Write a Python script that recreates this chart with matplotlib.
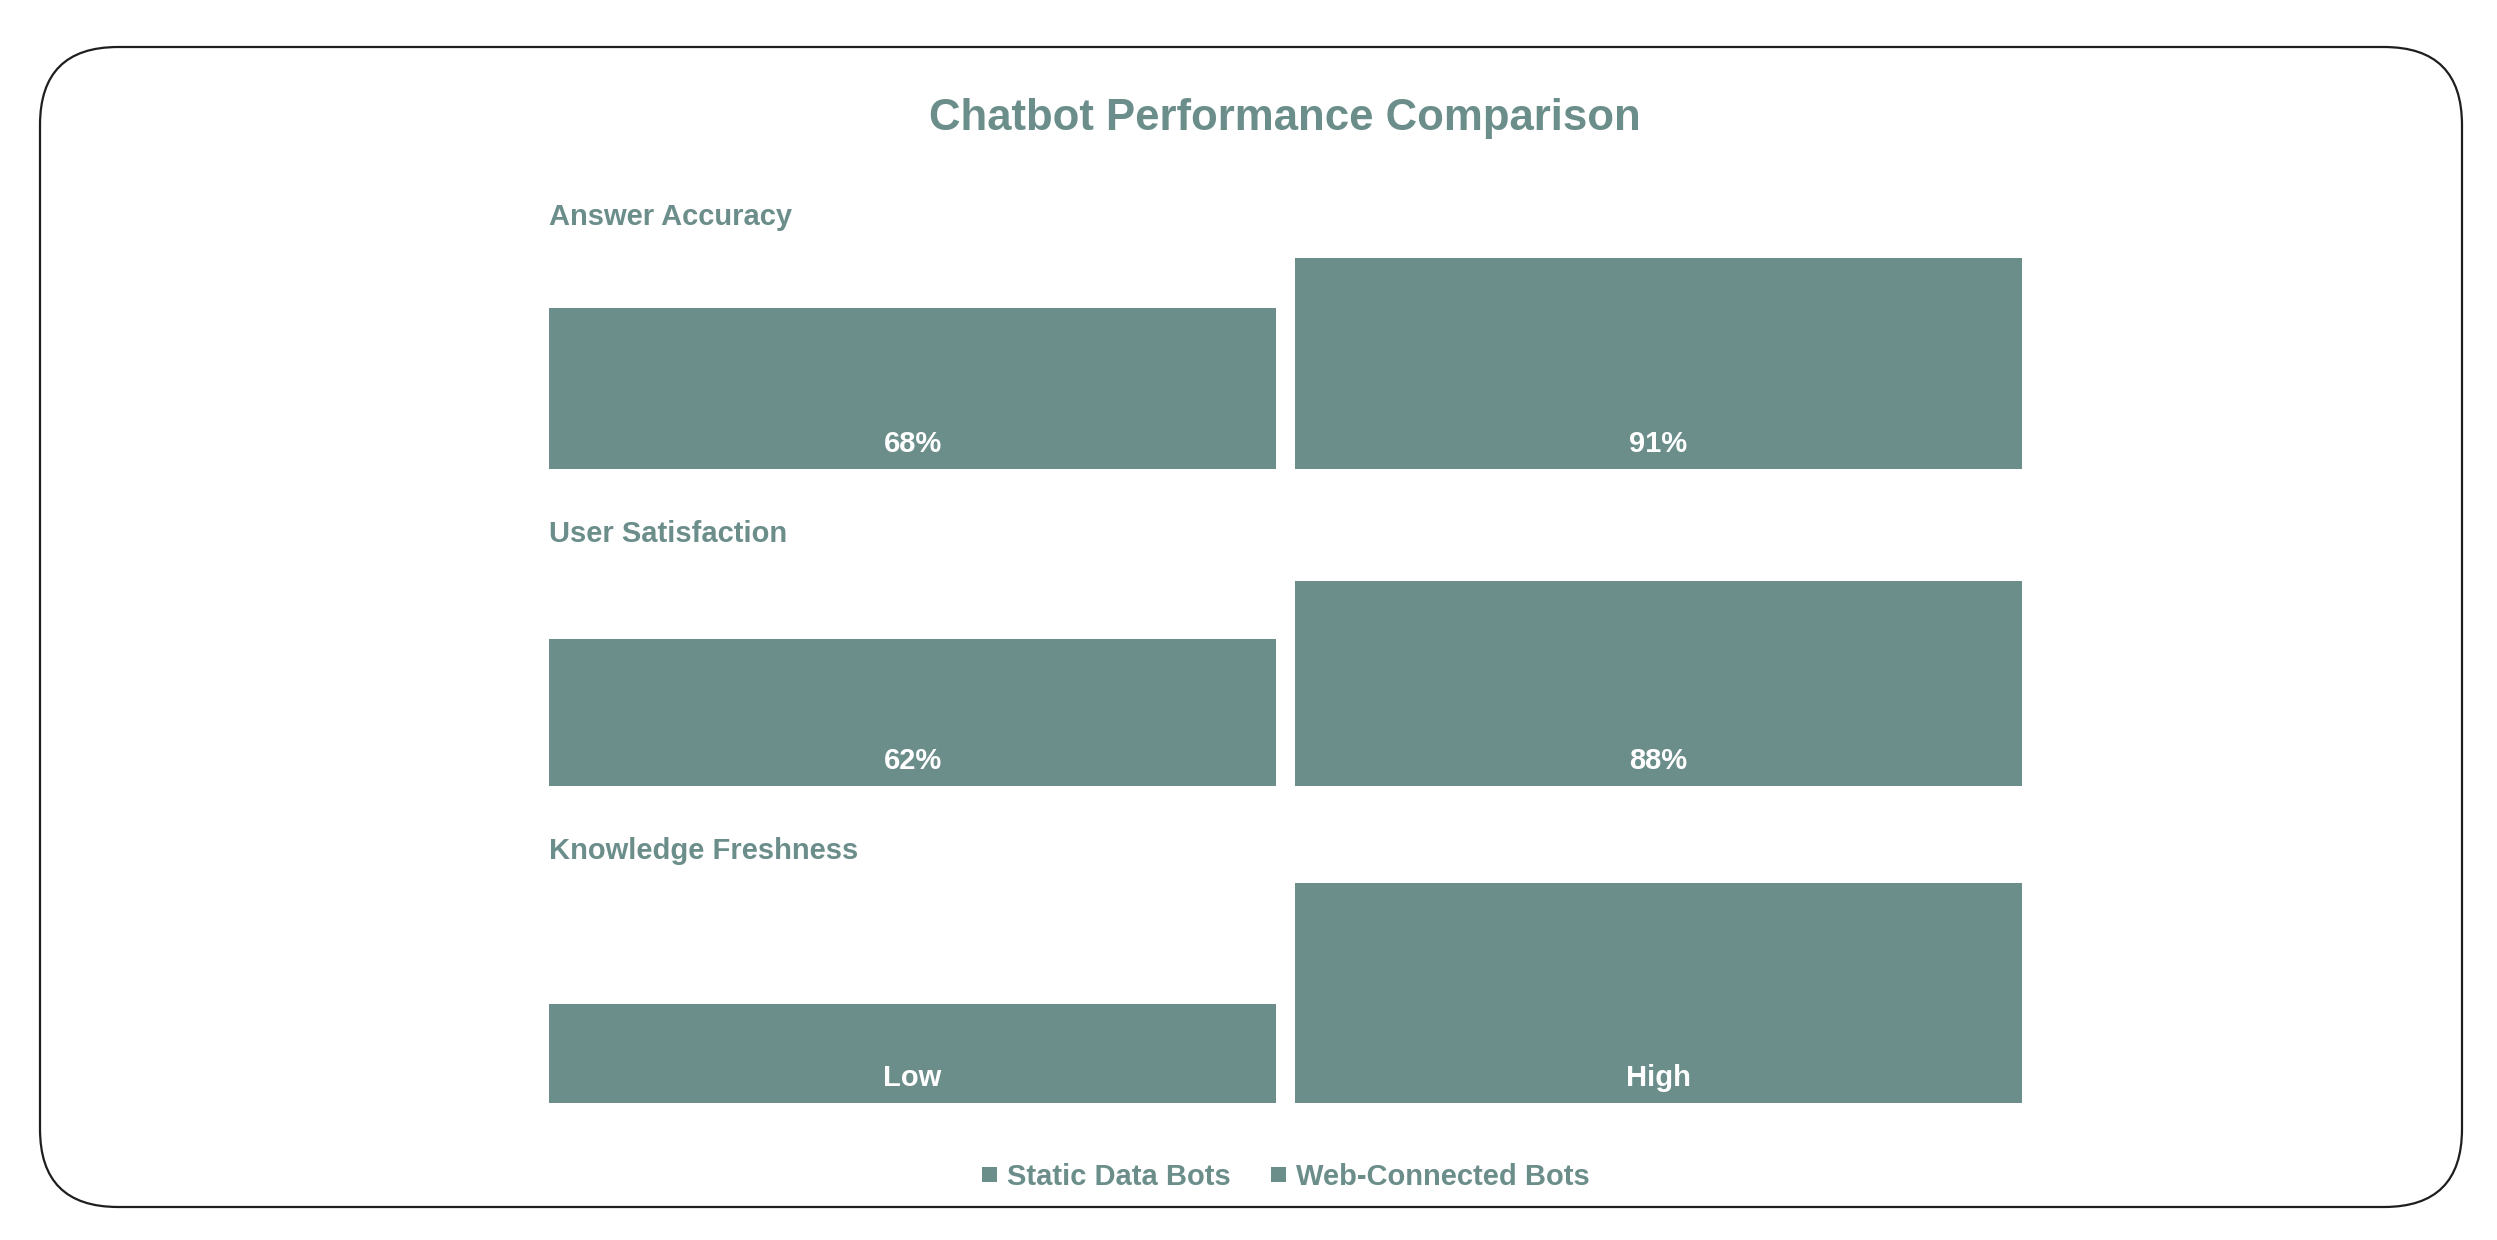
import matplotlib.pyplot as plt
from matplotlib.patches import FancyBboxPatch, Patch
import numpy as np

plt.rcParams["font.family"] = ["Liberation Sans", "DejaVu Sans"]

TEAL = "#6b8e8b"

# data
METRICS = ["Answer Accuracy", "User Satisfaction", "Knowledge Freshness"]
SERIES = ["Static Data Bots", "Web-Connected Bots"]
STATIC_VALUES = [68, 62, 40]
WEB_VALUES = [91, 88, 95]
STATIC_LABELS = ["68%", "62%", "Low"]
WEB_LABELS = ["91%", "88%", "High"]

W, H = 2497, 1240
BASE = -5          # value axis starts a little below zero in the original
BAR_WIDTH = 0.975


def px_x(p):
    return p / W


def px_y(p):
    return 1 - p / H


fig = plt.figure(figsize=(W / 100, H / 100), dpi=100)
fig.patch.set_facecolor("white")

# rounded frame around the card
frame = FancyBboxPatch(
    (px_x(40), px_y(1207)),
    px_x(2462) - px_x(40),
    px_y(47) - px_y(1207),
    boxstyle="round,pad=0,rounding_size=%f" % (78 / W),
    mutation_aspect=W / H,
    transform=fig.transFigure,
    facecolor="none",
    edgecolor="#1e1e1e",
    linewidth=1.6,
    zorder=-1,
)
fig.patches.append(frame)

fig.text(
    px_x(1285), px_y(130), "Chatbot Performance Comparison",
    ha="center", va="baseline", fontsize=31.5, fontweight="bold", color=TEAL,
)

left, right = 549, 2022
bottoms = [469, 786, 1103]
ax_height = 231

for i, metric in enumerate(METRICS):
    ax = fig.add_axes([
        px_x(left), px_y(bottoms[i]),
        (right - left) / W, ax_height / H,
    ])
    vals = np.array([STATIC_VALUES[i], WEB_VALUES[i]], dtype=float)
    labels = [STATIC_LABELS[i], WEB_LABELS[i]]
    x = np.arange(len(vals))
    ax.bar(x, vals - BASE, bottom=BASE, width=BAR_WIDTH, color=TEAL)
    ax.set_xlim(-BAR_WIDTH / 2, len(vals) - 1 + BAR_WIDTH / 2)
    ax.set_ylim(BASE, 100)
    ax.axis("off")

    for xi, lab in zip(x, labels):
        ax.annotate(
            lab, xy=(xi, BASE), xytext=(0, 12.2), textcoords="offset points",
            ha="center", va="baseline", fontsize=21, fontweight="bold",
            color="white",
        )

    ax.annotate(
        metric, xy=(0, 1), xycoords="axes fraction",
        xytext=(0, 9.4), textcoords="offset points",
        ha="left", va="baseline", fontsize=21, fontweight="bold", color=TEAL,
    )

handles = [Patch(facecolor=TEAL, edgecolor="none") for _ in SERIES]
leg = fig.legend(
    handles, SERIES, loc="center", bbox_to_anchor=(px_x(1286), px_y(1177)),
    ncol=2, frameon=False, fontsize=21,
    handlelength=0.52, handleheight=0.45, handletextpad=0.34,
    columnspacing=1.37, borderpad=0, borderaxespad=0,
)
for t in leg.get_texts():
    t.set_color(TEAL)
    t.set_fontweight("bold")

fig.savefig("out.png", dpi=100, facecolor="white")
